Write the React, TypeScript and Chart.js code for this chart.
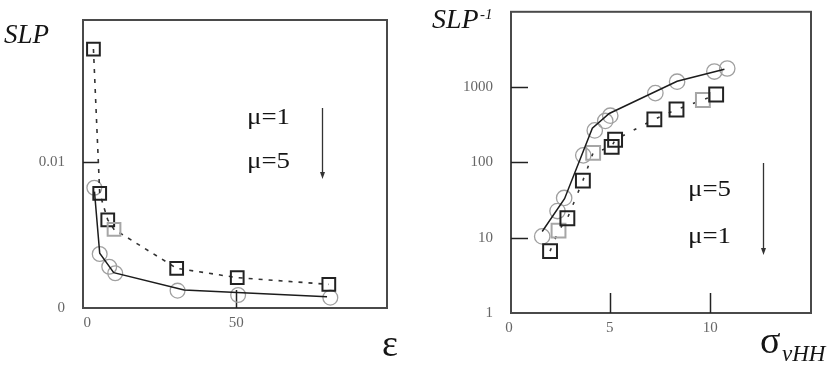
import React, { useEffect, useRef } from "react";
import { Chart, registerables } from "chart.js";

Chart.register(...registerables);

// ---- Left panel: SLP against ε ----
const epsSquares = [2.1, 4.2, 6.9, 9.0, 30, 50.3, 81];
const slpSquares = [0.01774, 0.00786, 0.00603, 0.00539, 0.00272, 0.00208, 0.00162];
const lightSquaresLeft = [false, false, false, true, false, false, false];
const epsCircles = [2.4, 4.2, 7.4, 9.4, 30.3, 50.6, 81.5];
const slpCircles = [0.00824, 0.0037, 0.00283, 0.00238, 0.00119, 0.00089, 0.00071];
const epsFit = [2.45, 4.2, 8.9, 32.5, 80.4];
const slpFit = [0.00797, 0.00375, 0.00242, 0.00123, 0.00077];
const leftXTicks = [0, 50];
const leftXTickLabels = ["0", "50"];
const leftYTicks = [0, 0.01];
const leftYTickLabels = ["0", "0.01"];
const leftXMarks = [50];
const leftYMarks = [0.01];

// ---- Right panel: SLP^-1 against σ_vHH (log scale) ----
const sigCircles = [1.65, 2.41, 2.74, 3.69, 4.26, 4.78, 5.03, 7.27, 8.35, 10.2, 10.84];
const invCircles = [10.4, 22.6, 33.7, 124, 266, 355, 417, 832, 1180, 1610, 1766];
const sigSquares = [2.04, 2.46, 2.9, 3.67, 4.18, 5.1, 5.27, 7.22, 8.32, 9.63, 10.29];
const invSquares = [6.64, 12.4, 18.1, 57.3, 134, 161, 200, 373, 504, 675, 798];
const lightSquaresRight = [false, true, false, false, true, false, false, false, false, true, false];
const sigFit = [1.65, 2.76, 4.14, 4.98, 8.35, 10.7];
const invFit = [12.1, 33, 285, 446, 1194, 1730];
const rightXTicks = [0, 5, 10];
const rightXTickLabels = ["0", "5", "10"];
const rightYTicks = [1, 10, 100, 1000];
const rightYTickLabels = ["1", "10", "100", "1000"];
const rightXMarks = [5, 10];
const rightYMarks = [10, 100, 1000];

const SERIF = '"Liberation Serif", "Times New Roman", "DejaVu Serif", serif';

type Label = {
  text: string;
  x: number;
  y: number;
  font: string;
  color?: string;
  sx?: number;
};

type PanelDecor = {
  xTicks: number[];
  xTickLabels: string[];
  yTicks: number[];
  yTickLabels: string[];
  xMarks: number[];
  yMarks: number[];
  xMarkLen: number;
  yMarkLen: number;
  labels: Label[];
  arrow: { x: number; y1: number; y2: number };
};

const pts = (xs: number[], ys: number[]) => xs.map((x, i) => ({ x, y: ys[i] }));

function drawLabel(ctx: CanvasRenderingContext2D, t: Label) {
  ctx.save();
  ctx.font = t.font;
  ctx.fillStyle = t.color ?? "#151515";
  ctx.textAlign = "left";
  ctx.textBaseline = "alphabetic";
  ctx.translate(t.x, t.y);
  ctx.scale(t.sx ?? 1, 1);
  ctx.fillText(t.text, 0, 0);
  ctx.restore();
}

function decorPlugin(d: PanelDecor) {
  return {
    id: "panelDecor",
    beforeDatasetsDraw(chart: any) {
      const ctx: CanvasRenderingContext2D = chart.ctx;
      const { left, right, top, bottom } = chart.chartArea;
      const xs = chart.scales.x;
      const ys = chart.scales.y;
      ctx.save();
      // frame
      ctx.strokeStyle = "#4a4a4a";
      ctx.lineWidth = 2;
      ctx.strokeRect(left, top, right - left, bottom - top);
      // inward tick marks
      ctx.strokeStyle = "#222";
      ctx.lineWidth = 1.5;
      d.xMarks.forEach((v) => {
        const px = Math.round(xs.getPixelForValue(v)) + 0.5;
        ctx.beginPath();
        ctx.moveTo(px, bottom);
        ctx.lineTo(px, bottom - d.xMarkLen);
        ctx.stroke();
      });
      d.yMarks.forEach((v) => {
        const py = Math.round(ys.getPixelForValue(v)) + 0.5;
        ctx.beginPath();
        ctx.moveTo(left, py);
        ctx.lineTo(left + d.yMarkLen, py);
        ctx.stroke();
      });
      // tick labels
      ctx.font = `15px ${SERIF}`;
      ctx.fillStyle = "#666";
      ctx.textBaseline = "middle";
      ctx.textAlign = "right";
      d.yTicks.forEach((v, i) => {
        ctx.fillText(d.yTickLabels[i], left - 18, ys.getPixelForValue(v));
      });
      ctx.textAlign = "center";
      d.xTicks.forEach((v, i) => {
        ctx.fillText(d.xTickLabels[i], xs.getPixelForValue(v), bottom + 15);
      });
      ctx.restore();
    },
    afterDraw(chart: any) {
      const ctx: CanvasRenderingContext2D = chart.ctx;
      d.labels.forEach((t) => drawLabel(ctx, t));
      // downward arrow
      const { x, y1, y2 } = d.arrow;
      ctx.save();
      ctx.strokeStyle = "#333";
      ctx.fillStyle = "#333";
      ctx.lineWidth = 1.3;
      ctx.beginPath();
      ctx.moveTo(x + 0.5, y1);
      ctx.lineTo(x + 0.5, y2 - 5);
      ctx.stroke();
      ctx.beginPath();
      ctx.moveTo(x + 0.5 - 2.5, y2 - 7);
      ctx.lineTo(x + 0.5 + 2.5, y2 - 7);
      ctx.lineTo(x + 0.5, y2);
      ctx.closePath();
      ctx.fill();
      ctx.restore();
    },
  };
}

function makeDatasets(
  fit: { x: number; y: number }[],
  squares: { x: number; y: number }[],
  light: boolean[],
  circles: { x: number; y: number }[],
  sqRadius: number,
  cRadius: number,
  dash: number[]
) {
  return [
    {
      label: "fit",
      data: fit,
      showLine: true,
      tension: 0,
      borderColor: "#1c1c1c",
      borderWidth: 1.5,
      pointRadius: 0,
      clip: false,
      order: 0,
    },
    {
      label: "squares",
      data: squares,
      showLine: true,
      tension: 0,
      borderColor: "#333",
      borderWidth: 1.6,
      borderDash: dash,
      pointStyle: "rect",
      pointRadius: sqRadius,
      pointBorderWidth: 2,
      pointBorderColor: light.map((l) => (l ? "#a6a6a6" : "#222")),
      pointBackgroundColor: "rgba(0,0,0,0)",
      clip: false,
      order: 1,
    },
    {
      label: "circles",
      data: circles,
      showLine: false,
      pointStyle: "circle",
      pointRadius: cRadius,
      pointBorderWidth: 1.3,
      pointBorderColor: "#a0a0a0",
      pointBackgroundColor: "rgba(0,0,0,0)",
      clip: false,
      order: 2,
    },
  ];
}

function Panel(props: {
  width: number;
  height: number;
  left: number;
  datasets: any[];
  xMin: number;
  xMax: number;
  yMin: number;
  yMax: number;
  yType: "linear" | "logarithmic";
  padding: { left: number; right: number; top: number; bottom: number };
  decor: PanelDecor;
}) {
  const ref = useRef<HTMLCanvasElement | null>(null);
  useEffect(() => {
    if (!ref.current) return;
    const chart = new Chart(ref.current, {
      type: "scatter",
      data: { datasets: props.datasets },
      options: {
        animation: false,
        responsive: false,
        maintainAspectRatio: false,
        devicePixelRatio: 1,
        layout: { padding: props.padding },
        plugins: { legend: { display: false }, tooltip: { enabled: false } },
        scales: {
          x: { type: "linear", min: props.xMin, max: props.xMax, display: false },
          y: { type: props.yType, min: props.yMin, max: props.yMax, display: false },
        },
      } as any,
      plugins: [decorPlugin(props.decor)],
    });
    return () => chart.destroy();
  }, []);
  return (
    <canvas
      ref={ref}
      width={props.width}
      height={props.height}
      style={{ position: "absolute", left: props.left, top: 0, width: props.width, height: props.height }}
    />
  );
}

export default function App() {
  const leftDecor: PanelDecor = {
    xTicks: leftXTicks,
    xTickLabels: leftXTickLabels,
    yTicks: leftYTicks,
    yTickLabels: leftYTickLabels,
    xMarks: leftXMarks,
    yMarks: leftYMarks,
    xMarkLen: 18,
    yMarkLen: 16,
    labels: [
      { text: "SLP", x: 4, y: 43, font: `italic 27px ${SERIF}` },
      { text: "ε", x: 382, y: 356, font: `38px ${SERIF}` },
      { text: "μ=1", x: 247, y: 124, font: `24px ${SERIF}`, sx: 1.12 },
      { text: "μ=5", x: 247, y: 168, font: `24px ${SERIF}`, sx: 1.12 },
    ],
    arrow: { x: 322, y1: 108, y2: 179 },
  };
  const rightDecor: PanelDecor = {
    xTicks: rightXTicks,
    xTickLabels: rightXTickLabels,
    yTicks: rightYTicks,
    yTickLabels: rightYTickLabels,
    xMarks: rightXMarks,
    yMarks: rightYMarks,
    xMarkLen: 20,
    yMarkLen: 17,
    labels: [
      { text: "SLP", x: 16, y: 28, font: `italic 28px ${SERIF}` },
      { text: "-1", x: 64, y: 19, font: `italic 15px ${SERIF}` },
      { text: "σ", x: 344, y: 353, font: `38px ${SERIF}` },
      { text: "vHH", x: 366, y: 361, font: `italic 23px ${SERIF}` },
      { text: "μ=5", x: 272, y: 196, font: `24px ${SERIF}`, sx: 1.12 },
      { text: "μ=1", x: 272, y: 243, font: `24px ${SERIF}`, sx: 1.12 },
    ],
    arrow: { x: 347, y1: 163, y2: 255 },
  };

  return (
    <div
      style={{
        position: "fixed",
        left: 0,
        top: 0,
        width: 833,
        height: 367,
        background: "#fff",
        overflow: "hidden",
      }}
    >
      <Panel
        width={416}
        height={367}
        left={0}
        datasets={makeDatasets(
          pts(epsFit, slpFit),
          pts(epsSquares, slpSquares),
          lightSquaresLeft,
          pts(epsCircles, slpCircles),
          9,
          7.4,
          [4, 6]
        )}
        xMin={-1.4}
        xMax={100.5}
        yMin={0}
        yMax={0.01973}
        yType="linear"
        padding={{ left: 83, right: 29, top: 20, bottom: 59 }}
        decor={leftDecor}
      />
      <Panel
        width={417}
        height={367}
        left={416}
        datasets={makeDatasets(
          pts(sigFit, invFit),
          pts(sigSquares, invSquares),
          lightSquaresRight,
          pts(sigCircles, invCircles),
          9.8,
          7.7,
          [3, 10]
        )}
        xMin={0.1}
        xMax={15}
        yMin={1}
        yMax={10000}
        yType="logarithmic"
        padding={{ left: 95, right: 22, top: 7, bottom: 54 }}
        decor={rightDecor}
      />
    </div>
  );
}
